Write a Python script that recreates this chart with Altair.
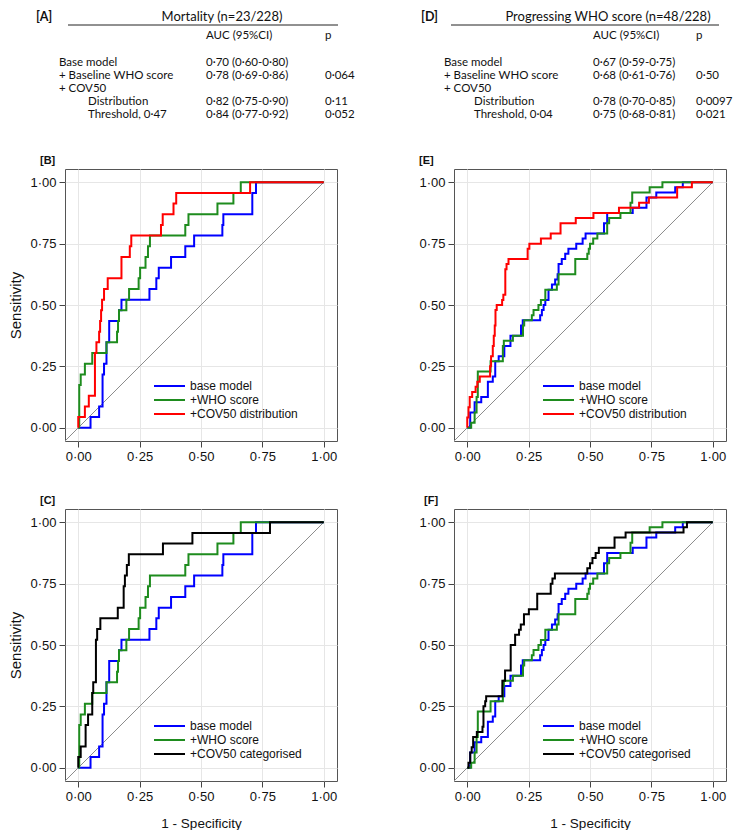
import altair as alt
import pandas as pd

# ---------------- data ----------------
N_MORT_EVENTS = 23
N_PROG_EVENTS = 48

MODELS = ["base model", "+WHO score", "+COV50 distribution", "+COV50 categorised"]
COLORS = ["#0000ff", "#1e8c1e", "#ff0000", "#000000"]

# Mortality: step corners (1 - specificity, events detected of 23)
mort_base_fpr = [0.000, 0.050, 0.085, 0.099, 0.105, 0.115, 0.126, 0.166, 0.176, 0.290, 0.318, 0.328, 0.378, 0.436, 0.472, 0.587, 0.591, 0.709, 0.724, 1.000]
mort_base_tp = [0, 1, 2, 5, 6, 8, 10, 11, 12, 13, 14, 15, 16, 17, 18, 19, 20, 22, 23, 23]
mort_who_fpr = [0.000, 0.004, 0.010, 0.027, 0.057, 0.115, 0.158, 0.162, 0.166, 0.196, 0.207, 0.246, 0.252, 0.274, 0.284, 0.292, 0.436, 0.449, 0.567, 0.632, 0.662, 1.000]
mort_who_tp = [0, 4, 5, 6, 7, 8, 9, 10, 11, 12, 13, 14, 15, 16, 17, 18, 19, 20, 21, 22, 23, 23]
mort_dist_fpr = [0.000, 0.000, 0.027, 0.043, 0.068, 0.074, 0.085, 0.089, 0.093, 0.097, 0.105, 0.120, 0.176, 0.210, 0.216, 0.337, 0.344, 0.388, 0.399, 0.700, 1.000]
mort_dist_tp = [0, 1, 2, 3, 7, 8, 9, 10, 11, 12, 13, 14, 16, 17, 18, 19, 20, 21, 22, 23, 23]
mort_cat_fpr = [0.000, 0.000, 0.010, 0.030, 0.040, 0.057, 0.061, 0.072, 0.077, 0.090, 0.161, 0.185, 0.190, 0.198, 0.206, 0.345, 0.465, 0.781, 1.000]
mort_cat_tp = [0, 1, 2, 4, 5, 7, 8, 12, 13, 14, 15, 17, 18, 19, 20, 21, 22, 23, 23]

# Progressing WHO score: step corners (1 - specificity, events detected of 48)
prog_base_fpr = [0.000, 0.012, 0.030, 0.057, 0.084, 0.104, 0.114, 0.128, 0.151, 0.176, 0.219, 0.226, 0.297, 0.304, 0.311, 0.318, 0.331, 0.345, 0.358, 0.368, 0.372, 0.385, 0.399, 0.412, 0.444, 0.470, 0.482, 0.557, 0.570, 0.674, 0.730, 0.770, 0.847, 0.878, 1.000]
prog_base_tp = [0, 3, 5, 6, 9, 10, 13, 14, 16, 18, 20, 21, 22, 23, 24, 25, 27, 28, 29, 30, 32, 33, 34, 35, 36, 37, 38, 40, 42, 43, 45, 46, 47, 48, 48]
prog_who_fpr = [0.000, 0.016, 0.030, 0.038, 0.043, 0.095, 0.145, 0.149, 0.186, 0.227, 0.232, 0.263, 0.270, 0.290, 0.300, 0.318, 0.365, 0.372, 0.440, 0.489, 0.495, 0.500, 0.513, 0.530, 0.570, 0.578, 0.624, 0.665, 0.672, 0.743, 0.795, 1.000]
prog_who_tp = [0, 1, 3, 6, 11, 13, 16, 17, 18, 20, 21, 22, 23, 24, 25, 27, 28, 30, 33, 34, 35, 36, 37, 38, 40, 41, 42, 44, 46, 47, 48, 48]
prog_dist_fpr = [0.000, 0.000, 0.005, 0.010, 0.020, 0.034, 0.041, 0.051, 0.093, 0.097, 0.104, 0.108, 0.112, 0.115, 0.120, 0.142, 0.147, 0.155, 0.160, 0.168, 0.246, 0.253, 0.300, 0.340, 0.380, 0.442, 0.514, 0.618, 0.700, 0.740, 0.855, 0.915, 1.000]
prog_dist_tp = [0, 2, 4, 6, 7, 8, 9, 10, 12, 14, 16, 18, 20, 23, 24, 25, 26, 31, 32, 33, 35, 36, 37, 38, 40, 41, 42, 43, 44, 45, 47, 48, 48]
prog_cat_fpr = [0.000, 0.005, 0.012, 0.018, 0.024, 0.039, 0.062, 0.066, 0.073, 0.077, 0.143, 0.154, 0.177, 0.195, 0.211, 0.218, 0.231, 0.251, 0.285, 0.340, 0.347, 0.357, 0.489, 0.500, 0.510, 0.523, 0.536, 0.600, 0.645, 0.881, 0.895, 1.000]
prog_cat_tp = [0, 1, 3, 4, 6, 7, 8, 12, 13, 14, 17, 19, 24, 26, 27, 28, 30, 31, 34, 36, 37, 38, 39, 40, 41, 42, 43, 45, 46, 47, 48, 48]

# Tables
table_rows_mort = ["Base model", "+ Baseline WHO score", "+ COV50", "Distribution", "Threshold, 0·47"]
table_rows_prog = ["Base model", "+ Baseline WHO score", "+ COV50", "Distribution", "Threshold, 0·04"]
table_levels = [0, 0, 0, 1, 1]
auc_mort = ["0·70 (0·60-0·80)", "0·78 (0·69-0·86)", "", "0·82 (0·75-0·90)", "0·84 (0·77-0·92)"]
p_mort = ["", "0·064", "", "0·11", "0·052"]
auc_prog = ["0·67 (0·59-0·75)", "0·68 (0·61-0·76)", "", "0·78 (0·70-0·85)", "0·75 (0·68-0·81)"]
p_prog = ["", "0·50", "", "0·0097", "0·021"]

TICKS = [0, 0.25, 0.5, 0.75, 1]
AX_DOMAIN = [-0.054, 1.054]

# ---------------- helpers ----------------
FONT = "Liberation Sans"
TFONT = "Lato"
LABEL_EXPR = "replace(format(datum.value, '.2f'), '.', '·')"
color_scale = alt.Scale(domain=MODELS, range=COLORS)


def curve(fpr, tp, n, model):
    return pd.DataFrame({"fpr": fpr, "tpr": [k / n for k in tp], "model": model,
                         "idx": list(range(len(fpr)))})


diag_df = pd.DataFrame({"fpr": [AX_DOMAIN[0], 1.0], "tpr": [AX_DOMAIN[0], 1.0]})

AXIS_STYLE = dict(values=TICKS, labelExpr=LABEL_EXPR, grid=True, gridColor="#e6e6e6",
                  domain=False, tickColor="#444444", tickSize=6, labelPadding=3,
                  labelFont=FONT, labelFontSize=13, labelColor="#111111",
                  titleFont=FONT, titleFontWeight=400, titleColor="#111111",
                  labelFlush=False)


def roc_panel(curves, tag, tag_dx, y_title, x_title):
    xs = alt.Scale(domain=AX_DOMAIN, nice=False, zero=False)
    ys = alt.Scale(domain=AX_DOMAIN, nice=False, zero=False)
    xaxis = alt.Axis(title=x_title, titleFontSize=13.5, titlePadding=13, **AXIS_STYLE)
    yaxis = alt.Axis(title=y_title, titleFontSize=15, titlePadding=6, **AXIS_STYLE)
    layers = [alt.Chart(diag_df).mark_line(color="#8c8c8c", strokeWidth=1).encode(
        x=alt.X("fpr:Q", scale=xs, axis=xaxis), y=alt.Y("tpr:Q", scale=ys, axis=yaxis))]
    for df in curves:
        layers.append(alt.Chart(df).mark_line(interpolate="step-after", strokeWidth=2).encode(
            x=alt.X("fpr:Q", scale=xs, axis=xaxis),
            y=alt.Y("tpr:Q", scale=ys, axis=yaxis),
            color=alt.Color("model:N", scale=color_scale, legend=None),
            order=alt.Order("idx:Q")))
    plot = alt.layer(*layers)
    leg_df = pd.DataFrame({"model": [d["model"].iloc[0] for d in curves], "rank": [0, 1, 2]})
    ly = alt.Y("rank:Q", scale=alt.Scale(domain=[0, 2], range=[217, 245]), axis=None)
    leg_rule = alt.Chart(leg_df).mark_rule(strokeWidth=2).encode(
        x=alt.value(89), x2=alt.value(120), y=ly,
        color=alt.Color("model:N", scale=color_scale, legend=None))
    leg_text = alt.Chart(leg_df).mark_text(align="left", baseline="middle", font=FONT,
                                           fontSize=12, color="#111").encode(
        x=alt.value(125), y=ly, text="model:N")
    legend = alt.layer(leg_rule, leg_text)
    return alt.layer(plot, legend).resolve_scale(y="independent").properties(
        width=272, height=272,
        view=alt.ViewBackground(stroke="#555555", strokeWidth=1),
        title=alt.TitleParams(tag, anchor="start", frame="group", dx=tag_dx, offset=3,
                              fontSize=11, fontWeight="bold", font=FONT, color="#111"))


def table_chart(tag, heading, rows, aucs, ps, pos):
    df = pd.DataFrame({"row": list(range(len(rows))), "label": rows, "level": table_levels,
                       "auc": aucs, "p": ps})
    rowy = alt.Y("row:Q", scale=alt.Scale(domain=[0, 4], range=[52, 104]), axis=None)
    one = pd.DataFrame({"heading": [heading], "tag": [tag], "auch": ["AUC (95%CI)"], "ph": ["p"]})
    base_text = dict(font=TFONT, fontSize=11.5, color="#111", baseline="middle", align="left")
    heading_l = alt.Chart(one).mark_text(font=TFONT, fontSize=13, color="#111",
                                         baseline="top", align="center").encode(
        x=alt.value(pos["head"]), y=alt.value(0), text="heading:N")
    tag_l = alt.Chart(one).mark_text(font=TFONT, fontSize=12.5, fontWeight="bold", color="#111",
                                     baseline="top", align="left").encode(
        x=alt.value(pos["tag"]), y=alt.value(0), text="tag:N")
    rule_l = alt.Chart(one).mark_rule(color="#222", strokeWidth=1).encode(
        x=alt.value(pos["u0"]), x2=alt.value(pos["u1"]), y=alt.value(14))
    auch_l = alt.Chart(one).mark_text(**base_text).encode(
        x=alt.value(pos["auc"]), y=alt.value(25), text="auch:N")
    ph_l = alt.Chart(one).mark_text(**base_text).encode(
        x=alt.value(pos["p"]), y=alt.value(25), text="ph:N")
    label_l = alt.Chart(df).mark_text(**base_text).encode(
        x=alt.X("level:Q", scale=alt.Scale(domain=[0, 1], range=pos["lab"]), axis=None),
        y=rowy, text="label:N")
    auc_l = alt.Chart(df).mark_text(**base_text).encode(
        x=alt.value(pos["auc"]), y=rowy, text="auc:N")
    p_l = alt.Chart(df).mark_text(**base_text).encode(
        x=alt.value(pos["p"]), y=rowy, text="p:N")
    return alt.layer(heading_l, tag_l, rule_l, auch_l, ph_l, label_l, auc_l, p_l).properties(
        width=272, height=90, view=alt.ViewBackground(stroke="transparent"))


# ---------------- build ----------------
mb = curve(mort_base_fpr, mort_base_tp, N_MORT_EVENTS, MODELS[0])
mw = curve(mort_who_fpr, mort_who_tp, N_MORT_EVENTS, MODELS[1])
md = curve(mort_dist_fpr, mort_dist_tp, N_MORT_EVENTS, MODELS[2])
mc = curve(mort_cat_fpr, mort_cat_tp, N_MORT_EVENTS, MODELS[3])
pb = curve(prog_base_fpr, prog_base_tp, N_PROG_EVENTS, MODELS[0])
pw = curve(prog_who_fpr, prog_who_tp, N_PROG_EVENTS, MODELS[1])
pdd = curve(prog_dist_fpr, prog_dist_tp, N_PROG_EVENTS, MODELS[2])
pc = curve(prog_cat_fpr, prog_cat_tp, N_PROG_EVENTS, MODELS[3])

tA = table_chart("[A]", "Mortality (n=23/228)", table_rows_mort, auc_mort, p_mort,
                 {"head": 157, "tag": -29, "u0": 3, "u1": 273, "auc": 141, "p": 260, "lab": [-6, 23]})
tD = table_chart("[D]", "Progressing WHO score (n=48/228)", table_rows_prog, auc_prog, p_prog,
                 {"head": 154, "tag": -33, "u0": -3, "u1": 265, "auc": 139, "p": 242, "lab": [-10, 20]})

pB = roc_panel([mb, mw, md], "[B]", -25, "Sensitivity", None)
pE = roc_panel([pb, pw, pdd], "[E]", -35, None, None)
pC = roc_panel([mb, mw, mc], "[C]", -25, "Sensitivity", "1 - Specificity")
pF = roc_panel([pb, pw, pc], "[F]", -30, None, "1 - Specificity")

chart = alt.concat(tA, tD, pB, pE, pC, pF, columns=2,
                   spacing={"row": 68, "column": 117}, bounds="flush", align="each").properties(
    padding={"left": 0, "top": 2, "right": 0, "bottom": 0}, background="white"
)

chart.save("out.html", embed_options={"renderer": "svg", "actions": False})
